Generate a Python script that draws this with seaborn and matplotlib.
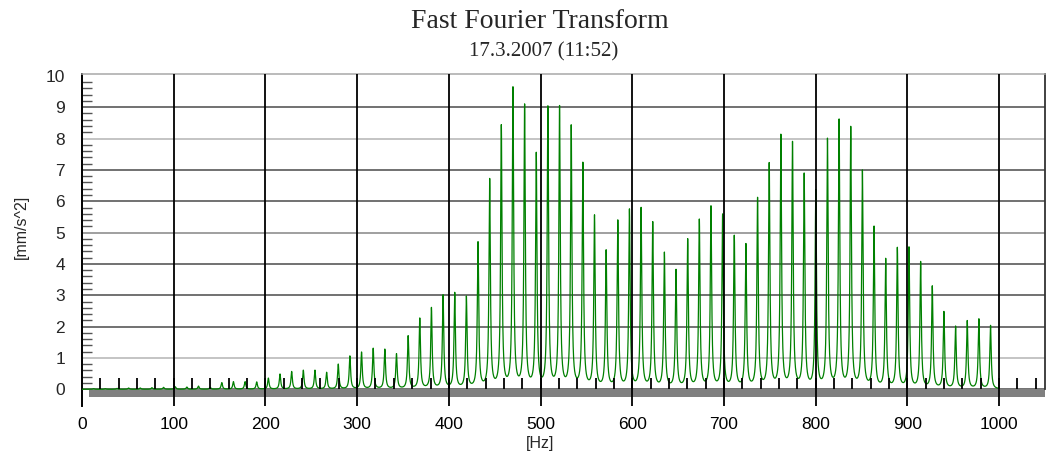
import numpy as np
import pandas as pd
import seaborn as sns
import matplotlib.pyplot as plt
from matplotlib.ticker import FixedLocator

# harmonic peaks (Hz, mm/s^2)
peak_hz = [12.7, 25.4, 38.1, 50.8, 63.5, 76.2, 88.9, 101.6, 114.3, 127.0,
           139.7, 152.4, 165.1, 177.8, 190.5, 203.2, 215.9, 228.6, 241.3, 254.0,
           266.7, 279.4, 292.1, 304.8, 317.5, 330.2, 342.9, 355.6, 368.3, 381.0,
           393.7, 406.4, 419.1, 431.8, 444.5, 457.2, 469.9, 482.6, 495.3, 508.0,
           520.7, 533.4, 546.1, 558.8, 571.5, 584.2, 596.9, 609.6, 622.3, 635.0,
           647.7, 660.4, 673.1, 685.8, 698.5, 711.2, 723.9, 736.6, 749.3, 762.0,
           774.7, 787.4, 800.1, 812.8, 825.5, 838.2, 850.9, 863.6, 876.3, 889.0,
           901.7, 914.4, 927.1, 939.8, 952.5, 965.2, 977.9, 990.6]
peak_amp = [0.02, 0.02, 0.03, 0.04, 0.04, 0.05, 0.06, 0.08, 0.07, 0.10,
            0.06, 0.21, 0.24, 0.24, 0.23, 0.35, 0.48, 0.56, 0.60, 0.60,
            0.53, 0.79, 1.05, 1.17, 1.29, 1.26, 1.11, 1.68, 2.24, 2.57,
            2.97, 3.04, 2.91, 4.63, 6.63, 8.33, 9.53, 8.98, 7.43, 8.92,
            8.93, 8.32, 7.14, 5.47, 4.36, 5.32, 5.67, 5.72, 5.27, 4.30,
            3.75, 4.73, 5.35, 5.77, 5.51, 4.83, 4.56, 6.03, 7.13, 8.03,
            7.80, 6.79, 6.26, 7.90, 8.51, 8.28, 6.90, 5.12, 4.10, 4.46,
            4.48, 4.02, 3.25, 2.44, 1.98, 2.16, 2.22, 2.02]

# small black cursor marks along the baseline
marker_hz = [20, 40, 60, 80, 100, 120, 140, 160, 180, 200, 220, 240, 260,
             280, 300, 320, 340, 360, 380, 400, 420, 440, 460, 480, 500, 520,
             540, 560, 580, 600, 620, 640, 660, 680, 700, 720, 740, 760, 780,
             800, 820, 840, 860, 880, 900, 920, 940, 960, 980, 1000, 1020, 1040]
marker_top = 0.35

x_ticks = [0, 100, 200, 300, 400, 500, 600, 700, 800, 900, 1000]
y_ticks = [0, 1, 2, 3, 4, 5, 6, 7, 8, 9, 10]

# line shape of each harmonic (lorentzian, half width in Hz)
width_hz = 0.9
freq = np.union1d(np.arange(0, 1000.01, 0.05), peak_hz)
amp = np.zeros_like(freq)
for f0, a in zip(peak_hz, peak_amp):
    amp += a * width_hz**2 / ((freq - f0)**2 + width_hz**2)
df = pd.DataFrame({"Hz": freq, "amp": amp})

sns.set_style("white")
plt.rcParams["font.family"] = ["Liberation Sans", "DejaVu Sans"]

fig = plt.figure(figsize=(10.46, 4.54), dpi=100)
ax = fig.add_axes([82/1046, 48/454, 963/1046, 332/454])

# grid lines (the original has a few lighter ones), top one is the frame
grid_cols = ["#4a4a4a", "#b4b4b4", "#4a4a4a", "#4a4a4a", "#4a4a4a", "#858585",
             "#4a4a4a", "#4a4a4a", "#b4b4b4", "#4a4a4a"]
for yv, c in zip(y_ticks[:-1], grid_cols):
    ax.axhline(yv, color=c, lw=1.1, zorder=1)
ax.vlines(x_ticks[1:], -0.6, 10.1, color="black", lw=1.3, zorder=5)

ax.fill_between([7.6, 1050], -0.24, 0, color="#808080", lw=0, zorder=2)

sns.lineplot(data=df, x="Hz", y="amp", color="#008000", linewidth=0.9,
             estimator=None, sort=False, ax=ax, zorder=3)
ax.vlines(marker_hz, 0, marker_top, color="black", lw=1.3, zorder=4)

ax.set_xlim(0, 1050)
ax.set_ylim(-0.533, 10.06)
ax.set_xlabel("")
ax.set_ylabel("")

ax.set_xticks(x_ticks)
ax.set_yticks(y_ticks)
ax.yaxis.set_minor_locator(FixedLocator([v / 5 for v in range(0, 51) if v % 5]))
ax.tick_params(axis="x", length=0, pad=8, labelsize=12.5, colors="black")
ax.tick_params(axis="y", which="major", direction="inout", length=14.4,
               width=1.1, color="#222222", pad=5, labelsize=12.5)
ax.tick_params(axis="y", which="minor", direction="in", length=7.2,
               width=1.0, color="#555555", left=True)

for s in ax.spines.values():
    s.set_visible(True)
ax.spines["bottom"].set_visible(False)
ax.spines["left"].set_color("black")
ax.spines["left"].set_linewidth(1.4)
ax.spines["top"].set_color("#a8a8a8")
ax.spines["top"].set_linewidth(1.1)
ax.spines["right"].set_color("#333333")
ax.spines["right"].set_linewidth(1.3)
ax.spines["right"].set_bounds(0, 10.06)

fig.text(0.516, 0.953, "Fast Fourier Transform", ha="center", va="center",
         fontsize=20, family=["Liberation Serif", "DejaVu Serif"])
fig.text(0.52, 0.886, "17.3.2007 (11:52)", ha="center", va="center",
         fontsize=15, family=["Liberation Serif", "DejaVu Serif"])
fig.text(0.02, 0.5, "[mm/s^2]", rotation=90, ha="center", va="center",
         fontsize=11.5)
fig.text(0.516, 0.024, "[Hz]", ha="center", va="center", fontsize=11.5)

fig.savefig("out.png", dpi=100)
